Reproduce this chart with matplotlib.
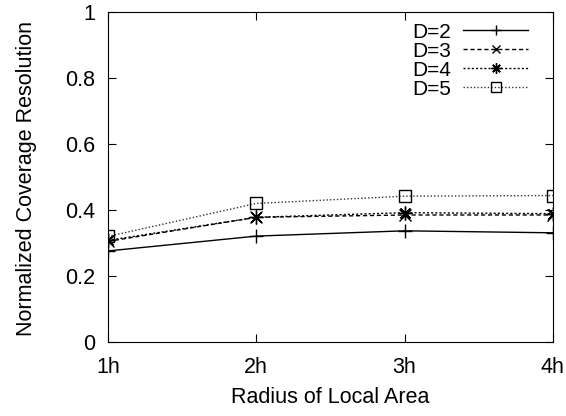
import matplotlib
matplotlib.use('Agg')
import matplotlib.pyplot as plt

plt.rcParams['font.family'] = ['Liberation Sans', 'DejaVu Sans']

radius = ['1h', '2h', '3h', '4h']
d2 = [0.276, 0.321, 0.337, 0.331]
d3 = [0.305, 0.378, 0.385, 0.385]
d4 = [0.308, 0.378, 0.392, 0.389]
d5 = [0.320, 0.420, 0.442, 0.444]

x = list(range(len(radius)))

fig = plt.figure(figsize=(5.66, 4.16), dpi=100)
ax = fig.add_axes([0.1908, 0.1779, 0.786, 0.793])

ax.plot(x, d2, color='black', lw=1.0, ls='-', marker='+', ms=10, mew=1.0, label='D=2')
ax.plot(x, d3, color='black', lw=1.0, ls=(0, (3, 2)), marker='x', ms=8, mew=1.0, label='D=3')
ax.plot(x, d4, color='black', lw=1.0, ls=(0, (1.5, 1.5)), marker=(8, 2, 0), ms=10, mew=1.0, label='D=4')
ax.plot(x, d5, color='#333333', lw=1.0, ls=(0, (1, 1.5)), marker='s', ms=9, mew=1.0,
        mfc='none', mec='black', label='D=5')

ax.set_xlim(0, 3)
ax.set_ylim(0, 1)
ax.set_xticks(x)
ax.set_xticklabels(radius)
ax.set_yticks([0, 0.2, 0.4, 0.6, 0.8, 1.0])
ax.set_yticklabels(['0', '0.2', '0.4', '0.6', '0.8', '1'])
ax.tick_params(direction='in', top=True, right=True, length=6, labelsize=15.5)
ax.tick_params(axis='x', pad=11)
ax.tick_params(axis='y', pad=9)
ax.set_xlabel('Radius of Local Area', fontsize=15.5)
ax.set_ylabel('Normalized Coverage Resolution', fontsize=15.5)
ax.xaxis.set_label_coords(0.5, -0.135)
ax.yaxis.set_label_coords(-0.16, 0.495)

ax.legend(loc='upper right', bbox_to_anchor=(0.944, 0.968), frameon=False, fontsize=15,
          handlelength=3.1, handletextpad=0.6, borderaxespad=0, borderpad=0,
          labelspacing=0, markerfirst=False, markerscale=0.75)

fig.savefig('out.png', dpi=100)
